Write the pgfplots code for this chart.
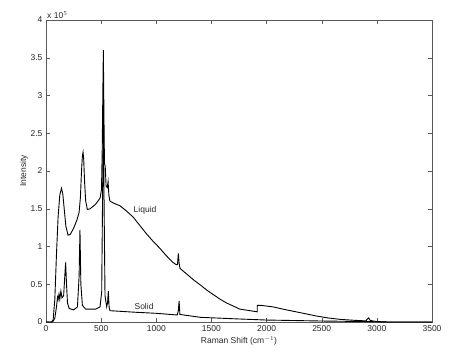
\documentclass[border=0pt]{standalone}
\usepackage{pgfplots}
\pgfplotsset{compat=1.18}
\usepackage{fontspec}
\setmainfont{Liberation Sans}
\pgfplotstableread{
x y
0 0
50 0
65 0.03
80 0.3
95 0.9
110 1.4
125 1.68
140 1.77
152 1.7
165 1.5
180 1.27
200 1.15
220 1.16
250 1.24
280 1.35
300 1.45
312 1.65
322 2.0
330 2.2
336 2.25
342 2.15
350 1.85
360 1.6
375 1.49
400 1.5
450 1.56
490 1.64
503 1.75
510 2.3
515 3.0
520 3.6
525 2.8
530 2.1
537 2.06
545 1.8
555 1.78
563 1.86
570 1.68
580 1.6
620 1.57
670 1.54
730 1.47
790 1.39
850 1.28
910 1.17
970 1.07
1030 0.98
1090 0.88
1150 0.79
1180 0.76
1192 0.76
1200 0.91
1207 0.78
1215 0.71
1280 0.63
1340 0.555
1400 0.49
1460 0.42
1520 0.36
1580 0.30
1640 0.25
1700 0.21
1750 0.175
1760 0.17
1850 0.15
1915 0.135
1916 0.22
1950 0.22
2060 0.20
2150 0.17
2250 0.14
2364 0.106
2450 0.08
2550 0.055
2666 0.035
2800 0.022
2900 0.015
2925 0.055
2940 0.02
3000 0.006
3100 0
3500 0
}\liquid
\pgfplotstableread{
x y
0 0
60 0
80 0.05
95 0.2
105 0.33
110 0.3
118 0.37
125 0.3
135 0.41
145 0.32
160 0.35
170 0.6
178 0.79
186 0.5
195 0.25
210 0.18
250 0.16
285 0.2
300 0.6
308 1.22
316 0.5
330 0.22
360 0.17
450 0.17
490 0.2
505 0.4
512 1.5
520 2.8
527 1.5
535 0.35
550 0.2
558 0.25
565 0.41
572 0.2
580 0.15
800 0.13
1000 0.115
1190 0.093
1200 0.15
1207 0.28
1214 0.1
1400 0.062
1750 0.04
2000 0.026
2500 0.013
2900 0.006
3100 0
3500 0
}\solid
\begin{document}
\begin{tikzpicture}
\begin{axis}[
  scale only axis,
  width=386pt, height=302pt,
  xmin=0, xmax=3500, ymin=0, ymax=4,
  xtick={0,500,...,3500},
  ytick={0,0.5,...,4},
  yticklabels={0,0.5,1,1.5,2,2.5,3,3.5,4},
  scaled ticks=false,
  tick align=inside,
  tick pos=both,
  major tick length=4pt,
  axis line style={black!65},
  tick style={black!65},
  ticklabel style={font=\fontsize{8.5}{10}\selectfont, text=black!85},
  /pgf/number format/assume math mode=true,
  /pgf/number format/1000 sep={},
  xlabel={Raman Shift (cm$^{-1}$)},
  ylabel={Intensity},
  label style={font=\fontsize{8.5}{10}\selectfont, text=black!85},
  xlabel style={yshift=2pt},
  ylabel style={yshift=-4pt},
  clip=false,
]
\addplot[black, line width=0.9pt] table[x=x,y=y] {\liquid};
\addplot[black, line width=0.9pt] table[x=x,y=y] {\solid};
\node[font=\fontsize{8.5}{10}\selectfont, text=black!85] at (axis cs:898,1.48) {Liquid};
\node[font=\fontsize{8.5}{10}\selectfont, text=black!85] at (axis cs:889,0.21) {Solid};
\node[font=\fontsize{8.5}{10}\selectfont, text=black!85, anchor=south west, inner sep=1pt] at (rel axis cs:0,1) {x 10$^{5}$};
\end{axis}
\path ([shift={(-46pt,-38pt)}]current axis.south west) rectangle ([shift={(34pt,20pt)}]current axis.north east);
\end{tikzpicture}
\end{document}
